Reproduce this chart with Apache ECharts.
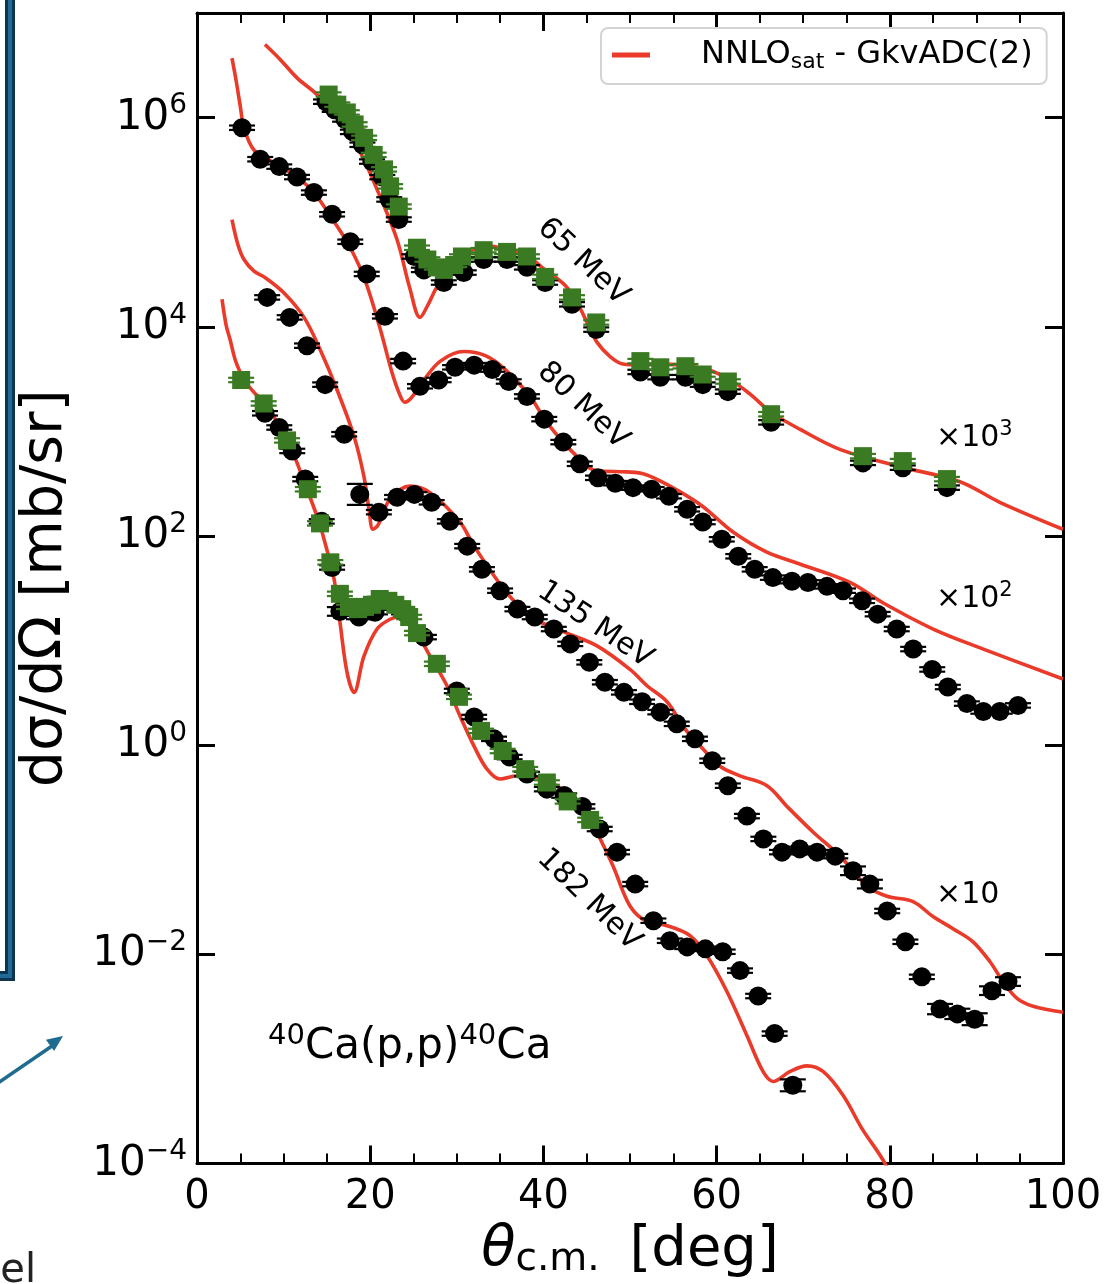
<!DOCTYPE html>
<html><head><meta charset="utf-8">
<script src="https://cdn.jsdelivr.net/npm/echarts@6/dist/echarts.min.js"></script>
<style>html,body{margin:0;padding:0;background:#fff}#c{width:1107px;height:1284px}</style>
</head><body><div id="c"></div>
<script>
// ---------- data (theta [deg], dsigma/dOmega [mb/sr], already scaled) ----------
// 65 MeV (x10^3)
const e65Squares = [[15.2,1.66e6],[16.2,1.33e6],[17.3,1.12e6],[18.2,8.6e5],[19.3,6.4e5],[20.4,4.4e5],[21.6,3.2e5],[22.3,2.2e5],[23.3,1.41e5],[25.4,5.7e4],[26.6,4.4e4],[27.7,3.7e4],[28.5,3.5e4],[29.7,3.9e4],[30.6,4.7e4],[33.1,5.4e4],[35.8,5.2e4],[38.1,4.7e4],[40.2,3.0e4],[43.3,1.91e4],[46.1,1.10e4],[51.2,4.7e3],[53.5,4.1e3],[56.4,4.2e3],[58.4,3.5e3],[61.3,3.0e3],[66.3,1.46e3],[76.9,5.8e2],[81.5,5.2e2],[86.6,3.5e2]];
const e65Circles = [[14.9,1.42e6],[15.9,1.19e6],[17.1,9.6e5],[18.0,7.3e5],[19.1,5.5e5],[20.2,3.8e5],[21.4,2.7e5],[22.2,1.65e5],[23.3,1.06e5],[25.1,4.7e4],[26.2,3.5e4],[28.5,2.65e4],[30.8,3.3e4],[33.1,4.4e4],[35.8,4.4e4],[38.1,3.7e4],[40.2,2.65e4],[43.3,1.64e4],[46.1,9.4e3],[51.2,3.7e3],[53.5,3.3e3],[56.4,3.3e3],[58.4,2.8e3],[61.3,2.4e3],[66.3,1.22e3],[76.9,5.0e2],[81.5,4.5e2],[86.6,2.9e2]];
const theory65 = [[7.85,5.0e6],[9.6,3.6e6],[11.55,2.4e6],[13.9,1.65e6],[16.2,1.0e6],[18.5,5.3e5],[20.8,2.05e5],[23.1,6.8e4],[24.6,2.3e4],[25.75,1.23e4],[26.7,1.64e4],[27.7,2.4e4],[30.0,4.4e4],[32.0,5.5e4],[33.8,5.9e4],[35.6,5.5e4],[37.9,4.9e4],[40.2,3.5e4],[42.5,2.5e4],[44.0,1.64e4],[45.15,1.05e4],[46.2,7.1e3],[47.7,5.2e3],[49.2,4.4e3],[51.2,4.3e3],[53.1,4.4e3],[55.8,4.3e3],[58.9,3.9e3],[61.6,3.1e3],[63.9,2.26e3],[66.3,1.52e3],[69.6,1.05e3],[74.3,6.7e2],[81.2,4.6e2],[88.1,3.3e2],[92.7,2.1e2],[100,1.16e2]];
// 80 MeV (x10^2)
const e80Circles = [[5.2,8.0e5],[7.3,4.0e5],[9.5,3.4e5],[11.55,2.7e5],[13.5,1.92e5],[15.6,1.19e5],[17.7,6.5e4],[19.6,3.2e4],[21.7,1.26e4],[23.8,4.7e3],[25.75,2.7e3],[27.9,3.1e3],[29.8,4.1e3],[32.0,4.3e3],[34.1,3.9e3],[36.0,3.0e3],[38.1,2.16e3],[40.1,1.31e3],[42.3,7.9e2],[44.2,4.9e2],[46.3,3.6e2],[48.3,3.2e2],[50.35,2.9e2],[52.5,2.8e2],[54.5,2.4e2],[56.6,1.80e2],[58.4,1.36e2],[60.6,93],[62.5,64],[64.4,48],[66.5,40],[68.7,37],[70.55,36],[72.75,33],[74.6,30],[76.8,24],[78.6,17.9],[80.8,12.9],[82.7,8.3],[84.9,5.3],[86.7,3.6],[88.9,2.5],[90.8,2.1],[92.7,2.1],[94.8,2.4]];
const theory80 = [[4.04,3.7e6],[4.5,2.3e6],[4.97,1.33e6],[5.43,8.0e5],[6.58,4.9e5],[8.89,3.7e5],[11.55,2.7e5],[13.5,1.92e5],[15.8,1.02e5],[17.7,5.7e4],[19.4,2.8e4],[21.1,9.9e3],[22.5,3.7e3],[23.4,2.26e3],[24.0,1.90e3],[24.8,2.12e3],[26.2,3.1e3],[28.1,4.7e3],[30.8,5.8e3],[33.3,5.3e3],[35.6,3.9e3],[38.45,2.16e3],[40.4,1.22e3],[43.4,6.3e2],[46.2,4.2e2],[49.65,4.1e2],[51.7,3.9e2],[54.3,3.1e2],[58.1,2.0e2],[61.9,1.09e2],[65.8,70],[69.6,54],[75.4,36],[79.2,23],[85.0,12.9],[90.8,8.3],[100,4.3]];
// 135 MeV (x10)  -- optional 3rd value: relative error
const e135Circles = [[8.1,1.91e4],[10.7,1.23e4],[12.7,6.6e3],[14.8,2.8e3],[17.0,9.4e2],[18.8,2.5e2,0.26],[21.0,1.69e2],[23.1,2.35e2],[25.1,2.5e2],[27.1,2.1e2],[29.2,1.38e2],[31.2,80],[32.9,48],[35.0,30],[37.0,20],[39.0,16.8],[41.2,12.9],[43.1,9.3],[45.3,6.2],[47.1,4.0],[49.3,3.2],[51.4,2.6],[53.5,2.07],[55.4,1.6],[57.5,1.15],[59.5,0.71],[61.3,0.41],[63.5,0.21],[65.4,0.127],[67.55,0.095],[69.6,0.102],[71.6,0.095],[73.7,0.087],[75.75,0.063,0.1],[77.7,0.047,0.1],[79.7,0.026],[81.8,0.0132],[83.7,0.0061],[85.8,0.0030,0.12],[87.8,0.0027,0.12],[89.8,0.0024,0.14],[91.8,0.0045,0.1],[93.65,0.0055,0.1]];
const theory135 = [[4.04,1.06e5],[4.73,6.1e4],[5.43,4.4e4],[6.58,3.4e4],[7.74,3.0e4],[10.05,2.1e4],[12.36,1.23e4],[14.2,6.1e3],[16.17,2.5e3],[18.13,9.0e2],[19.28,3.7e2],[19.86,1.80e2],[20.32,1.16e2],[20.9,1.27e2],[22.29,2.25e2],[24.6,3.0e2],[26.91,2.6e2],[30.37,1.36e2],[32.0,80],[35.45,31],[38.45,17.1],[42.38,12.1],[46.19,8.9],[50.0,5.3],[51.96,3.7],[54.27,2.6],[56.35,1.43],[58.43,0.92],[60.39,0.63],[62.7,0.51],[65.82,0.41],[68.13,0.26],[71.13,0.148],[74.25,0.087],[77.37,0.045],[79.68,0.036],[82.68,0.032],[84.99,0.023],[87.3,0.0176],[89.61,0.0132],[91.57,0.0085],[93.07,0.0055],[94.69,0.0038],[96.54,0.0032],[100,0.0028]];
// 182 MeV (x1)
const e182Squares = [[5.1,3.1e3],[7.7,1.85e3],[10.4,8.2e2],[12.8,2.8e2],[14.2,1.32e2],[15.4,56],[16.5,28],[17.55,21],[18.6,20],[19.4,21],[20.2,22],[21.1,25],[22.1,24],[22.9,22],[23.7,20],[24.5,16.8],[25.4,11.8],[27.7,6.0],[30.25,2.9],[32.8,1.37],[35.3,0.88],[37.9,0.59],[40.4,0.44],[42.8,0.29],[45.4,0.193]];
const e182Circles = [[7.85,1.49e3],[9.5,1.09e3],[11.0,6.5e2],[12.5,3.5e2],[14.4,1.38e2],[15.6,50],[16.5,19,0.1],[18.7,16.8],[20.55,18.7],[23.9,18.7],[26.2,10.8],[30.0,3.3],[32.0,1.86],[34.3,1.15],[36.1,0.77],[38.1,0.53],[40.4,0.38],[42.4,0.33],[44.5,0.26],[46.5,0.158],[48.5,0.095],[50.6,0.047],[52.7,0.021],[54.6,0.0135],[56.6,0.0118],[58.7,0.0113],[60.7,0.0106],[62.7,0.0070],[64.8,0.0040],[66.7,0.00175],[68.8,0.00056,0.14]];
const theory182 = [[2.89,1.83e4],[3.35,1.05e4],[3.81,7.6e3],[4.39,4.9e3],[4.97,3.7e3],[5.43,3.1e3],[6.58,2.36e3],[7.74,1.90e3],[10.39,8.4e2],[12.7,2.8e2],[14.09,1.36e2],[14.67,93],[15.82,39],[16.51,15],[17.32,5.0],[18.13,3.2],[19.28,7.1],[20.79,12.9],[22.29,16.0],[23.44,16.8],[25.06,12.9],[26.91,7.1],[28.87,3.7],[30.37,1.9],[31.99,0.98],[33.49,0.59],[34.99,0.475],[36.95,0.51],[40.07,0.475],[43.07,0.33],[45.38,0.21],[46.19,0.148],[48.04,0.070],[50.0,0.029],[51.96,0.0205],[54.27,0.0188],[56.93,0.0151],[58.89,0.0097],[61.2,0.0044],[63.51,0.00167],[65.36,0.00076],[66.51,0.00061],[68.48,0.00076],[70.44,0.00086],[72.29,0.00076],[74.6,0.00045],[76.79,0.000216],[79.45,1.0e-4],[80.6,5.6e-5]];

const xTicks = [0,20,40,60,80,100];
const energyLabels = ['65 MeV','80 MeV','135 MeV','182 MeV'];
const scaleLabels = ['3','2',''];
const legendText = 'NNLO{sub|sat} - GkvADC(2)';
const reactionText = '{s|40}Ca(p,p){s|40}Ca';

// ---------- drawing ----------
const FONT = "'DejaVu Sans', sans-serif";
const RED = '#ea3b2a';
const GREEN = '#3a7a22';
const BLACK = '#000';

const chart = echarts.init(document.getElementById('c'), null, {renderer:'canvas'});

function supLabel(v){
  const e = Math.round(Math.log10(v));
  return '{b|10}{s|' + (e < 0 ? '\u2212' + (-e) : e) + '}';
}
function makeErr(color){
  return function(params, api){
    const x = api.value(0), y = api.value(1), e = api.value(2);
    const p = api.coord([x, y]);
    const t = api.coord([x, y * (1 + e)]);
    const b = api.coord([x, y / (1 + e)]);
    const hw = 13;
    const st = {stroke: color, lineWidth: 2.2};
    return {type:'group', children:[
      {type:'line', shape:{x1:p[0], y1:t[1], x2:p[0], y2:b[1]}, style:st},
      {type:'line', shape:{x1:p[0]-hw, y1:t[1], x2:p[0]+hw, y2:t[1]}, style:st},
      {type:'line', shape:{x1:p[0]-hw, y1:b[1], x2:p[0]+hw, y2:b[1]}, style:st}
    ]};
  };
}
const theo = (data) => ({type:'line', name:'theory', data, symbol:'none', showSymbol:false, smooth:0.35,
  lineStyle:{color:RED, width:3.6}, itemStyle:{color:RED}, z:2, clip:true, silent:true, animation:false});
const pts = (data, color, symbol, size, z) => ({type:'scatter', data:data.map(d => [d[0], d[1]]), symbol, symbolSize:size,
  itemStyle:{color, opacity:1}, z, silent:true, animation:false});
const errs = (data, color, z, def) => ({type:'custom', data:data.map(d => [d[0], d[1], d[2] != null ? d[2] : def]),
  renderItem:makeErr(color), encode:{x:0, y:1}, z, silent:true, animation:false});

const axisLineStyle = {show:true, onZero:false, lineStyle:{color:BLACK, width:3}};
const majorTick = {show:true, inside:true, length:18, lineStyle:{color:BLACK, width:3}};

const option = {
  animation:false,
  backgroundColor:'#fff',
  grid:{left:197, right:44, top:13, bottom:118, show:false},
  legend:{
    data:[{name:'theory', icon:'rect'}],
    left:601, top:28,
    itemWidth:38, itemHeight:5,
    padding:[11, 14, 11, 11],
    backgroundColor:'#fff', borderColor:'#d4d4d4', borderWidth:2, borderRadius:7,
    formatter:() => '{g|}' + legendText,
    textStyle:{fontSize:32, fontFamily:FONT, color:BLACK,
      rich:{g:{width:46}, sub:{fontSize:22, fontFamily:FONT, color:BLACK, padding:[14,0,0,0]}}},
    selectedMode:false
  },
  xAxis:[{
    type:'value', min:xTicks[0], max:xTicks[xTicks.length-1], interval:20, position:'bottom',
    axisLine:axisLineStyle, axisTick:majorTick,
    minorTick:{show:true, splitNumber:4, length:10, lineStyle:{color:BLACK, width:2}},
    splitLine:{show:false}, minorSplitLine:{show:false},
    axisLabel:{fontSize:40, fontFamily:FONT, color:BLACK, margin:14},
    name:'{i|\u03b8}{sub|c.m.} [deg]', nameLocation:'middle', nameGap:58,
    nameTextStyle:{fontSize:56, fontFamily:FONT, color:BLACK,
      rich:{i:{fontSize:56, fontFamily:FONT, fontStyle:'italic', color:BLACK},
            sub:{fontSize:39, fontFamily:FONT, color:BLACK, padding:[18,12,0,0]}}}
  },{
    type:'value', min:0, max:100, interval:20, position:'top',
    axisLine:axisLineStyle, axisTick:majorTick,
    minorTick:{show:true, splitNumber:4, length:10, lineStyle:{color:BLACK, width:2}},
    splitLine:{show:false}, axisLabel:{show:false}
  }],
  yAxis:[{
    type:'log', logBase:10, min:1e-4, max:1e7, interval:2, position:'left',
    axisLine:axisLineStyle, axisTick:majorTick, splitLine:{show:false},
    axisLabel:{formatter:supLabel, margin:10, showMaxLabel:false,
      rich:{b:{fontSize:42, fontFamily:FONT, color:BLACK, lineHeight:48},
            s:{fontSize:28, fontFamily:FONT, color:BLACK, padding:[0,0,23,0]}}},
    name:'d\u03c3/d\u03a9 [mb/sr]', nameLocation:'middle', nameGap:122, nameRotate:90,
    nameTextStyle:{fontSize:57, fontFamily:FONT, color:BLACK}
  },{
    type:'log', logBase:10, min:1e-4, max:1e7, interval:2, position:'right',
    axisLine:axisLineStyle, axisTick:majorTick, splitLine:{show:false}, axisLabel:{show:false}
  }],
  series:[
    theo(theory65), theo(theory80), theo(theory135), theo(theory182),
    errs(e65Circles, BLACK, 3, 0.05), pts(e65Circles, BLACK, 'circle', 19, 4),
    errs(e80Circles, BLACK, 3, 0.05), pts(e80Circles, BLACK, 'circle', 19, 4),
    errs(e135Circles, BLACK, 3, 0.05), pts(e135Circles, BLACK, 'circle', 19, 4),
    errs(e182Circles, BLACK, 3, 0.05), pts(e182Circles, BLACK, 'circle', 19, 4),
    errs(e65Squares, GREEN, 5, 0.05), pts(e65Squares, GREEN, 'rect', 18, 6),
    errs(e182Squares, GREEN, 5, 0.05), pts(e182Squares, GREEN, 'rect', 18, 6)
  ],
  graphic:[
    // energy labels
    {type:'text', x:583, y:262, rotation:-0.75, style:{text:energyLabels[0], fontSize:30, fontFamily:FONT, fill:BLACK, align:'center', verticalAlign:'middle'}, z:50},
    {type:'text', x:583, y:406, rotation:-0.75, style:{text:energyLabels[1], fontSize:30, fontFamily:FONT, fill:BLACK, align:'center', verticalAlign:'middle'}, z:50},
    {type:'text', x:595, y:625, rotation:-0.59, style:{text:energyLabels[2], fontSize:30, fontFamily:FONT, fill:BLACK, align:'center', verticalAlign:'middle'}, z:50},
    {type:'text', x:589, y:900, rotation:-0.77, style:{text:energyLabels[3], fontSize:30, fontFamily:FONT, fill:BLACK, align:'center', verticalAlign:'middle'}, z:50},
    // scaling factors
    {type:'text', x:936, y:438, style:{text:'\u00d710{s|'+scaleLabels[0]+'}', fontSize:30, fontFamily:FONT, fill:BLACK, align:'left', verticalAlign:'middle',
      rich:{s:{fontSize:21, fontFamily:FONT, fill:BLACK, padding:[0,0,16,0]}}}, z:50},
    {type:'text', x:936, y:599, style:{text:'\u00d710{s|'+scaleLabels[1]+'}', fontSize:30, fontFamily:FONT, fill:BLACK, align:'left', verticalAlign:'middle',
      rich:{s:{fontSize:21, fontFamily:FONT, fill:BLACK, padding:[0,0,16,0]}}}, z:50},
    {type:'text', x:936, y:895, style:{text:'\u00d710', fontSize:30, fontFamily:FONT, fill:BLACK, align:'left', verticalAlign:'middle'}, z:50},
    // reaction
    {type:'text', x:268, y:1047, style:{text:reactionText, fontSize:42, fontFamily:FONT, fill:BLACK, align:'left', verticalAlign:'middle',
      rich:{s:{fontSize:29, fontFamily:FONT, fill:BLACK, padding:[0,0,22,0]}}}, z:50},
    // slide artifacts on the left
    {type:'polyline', shape:{points:[[-10,976],[10,976],[10,-10]]}, style:{stroke:'#0e3550', lineWidth:10, fill:null}, z:60},
    {type:'polyline', shape:{points:[[-10,976],[10,976],[10,-10]]}, style:{stroke:'#1f6a96', lineWidth:4, fill:null}, z:61},
    {type:'line', shape:{x1:-5, y1:1085, x2:52, y2:1046}, style:{stroke:'#1f6a8f', lineWidth:3.5}, z:60},
    {type:'polygon', shape:{points:[[63,1036],[45.9,1039.8],[54.1,1051]]}, style:{fill:'#1f6a8f'}, z:60},
    {type:'text', x:36, y:1292, style:{text:'el', fontSize:40, fontFamily:FONT, fill:'#222', align:'right', verticalAlign:'bottom'}, z:60}
  ]
};
chart.setOption(option);
</script></body></html>
